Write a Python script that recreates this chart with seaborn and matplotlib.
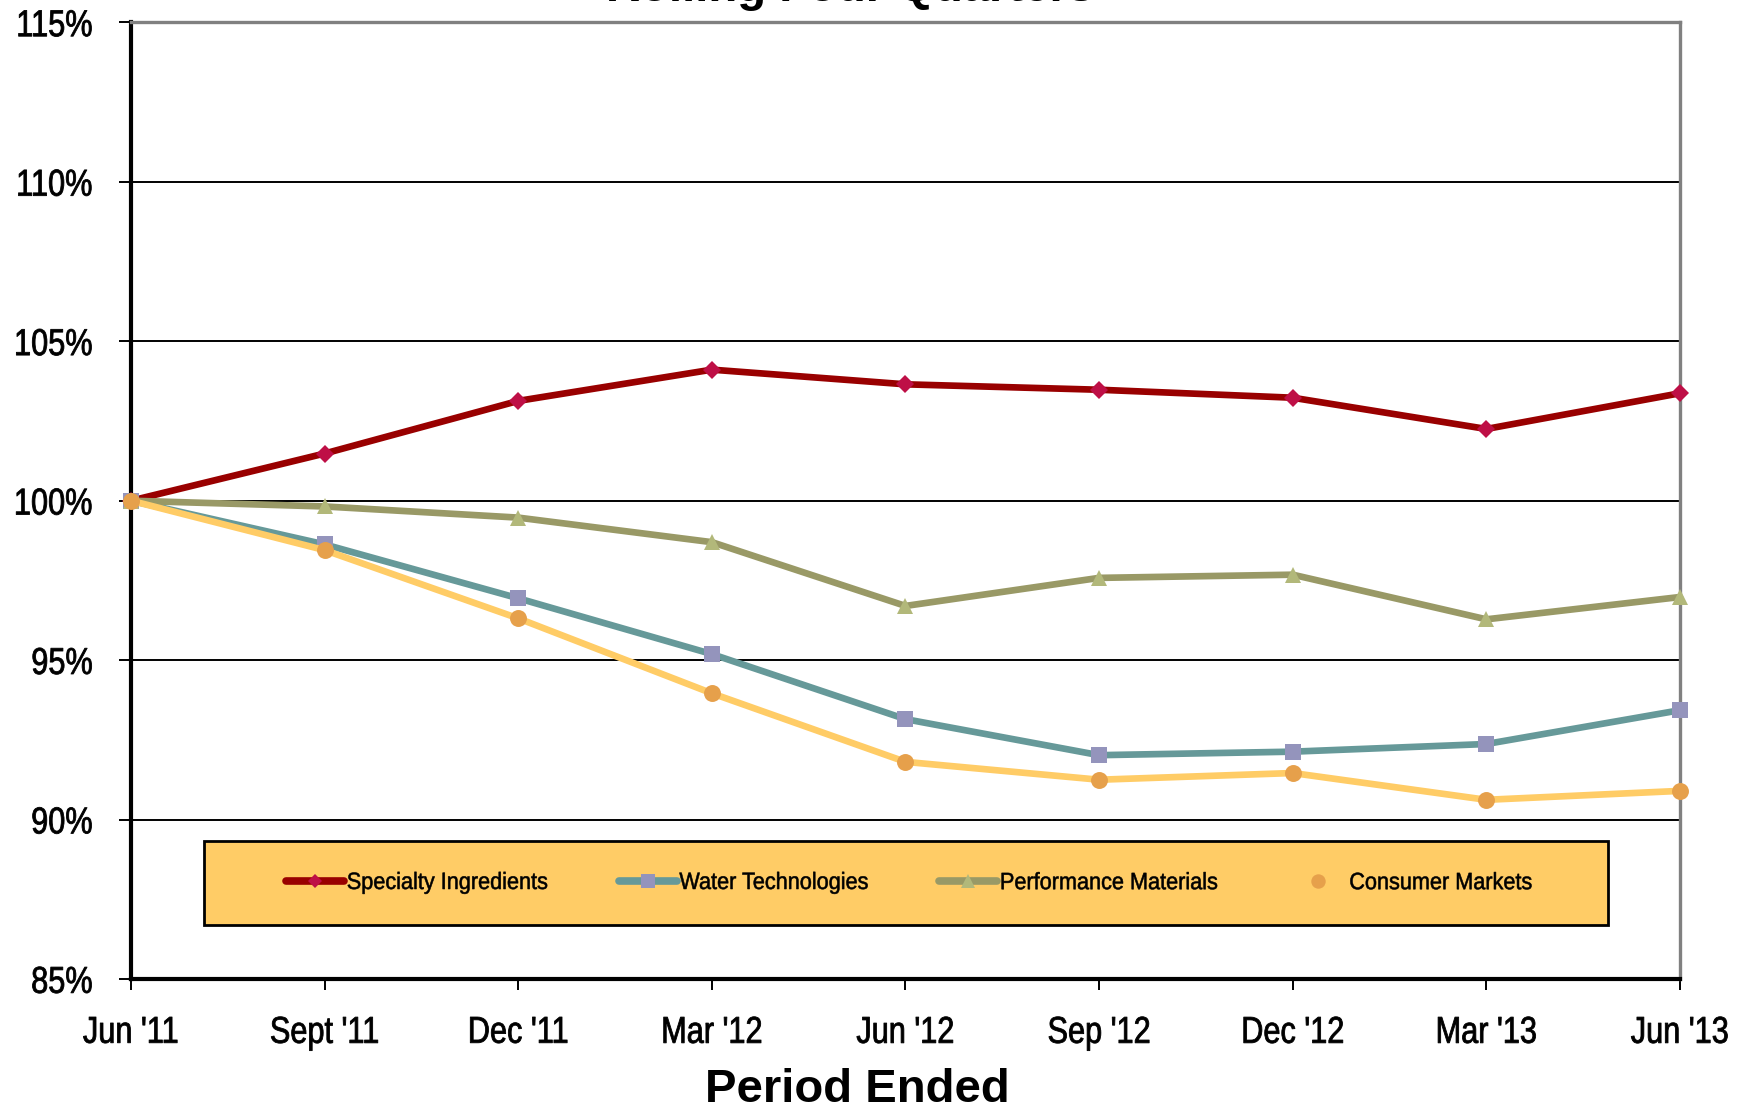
import matplotlib
matplotlib.use("Agg")
import matplotlib.pyplot as plt
from matplotlib.lines import Line2D
from matplotlib.patches import Rectangle
from matplotlib.patheffects import AbstractPathEffect
from matplotlib.transforms import Affine2D
import seaborn as sns
import pandas as pd

periods = ["Jun '11", "Sept '11", "Dec '11", "Mar '12", "Jun '12",
           "Sep '12", "Dec '12", "Mar '13", "Jun '13"]
specialty = [100.0, 101.48, 103.13, 104.11, 103.65, 103.48, 103.23, 102.25, 103.37]
water = [100.0, 98.63, 96.94, 95.19, 93.15, 92.02, 92.13, 92.37, 93.43]
performance = [100.0, 99.82, 99.47, 98.70, 96.70, 97.58, 97.68, 96.28, 96.98]
consumer = [100.0, 98.45, 96.31, 93.96, 91.81, 91.25, 91.46, 90.62, 90.90]
y_ticks = [85, 90, 95, 100, 105, 110, 115]

sns.set_style("white")
plt.rcParams["font.family"] = ["Liberation Sans", "DejaVu Sans"]


class Narrow(AbstractPathEffect):
    """Stretch a text path vertically (giving a narrow-type look) and thicken it."""

    def __init__(self, sy, anchor="center", stroke=0.0):
        super().__init__()
        self.sy = sy
        self.anchor = anchor
        self.stroke = stroke

    def draw_path(self, renderer, gc, tpath, affine, rgbFace=None):
        pts = affine.transform(tpath.vertices)
        y0 = 0.0
        if len(pts):
            ymin, ymax = pts[:, 1].min(), pts[:, 1].max()
            y0 = {"top": ymax, "bottom": ymin, "center": 0.5 * (ymin + ymax)}[self.anchor]
        stretch = Affine2D().translate(0, -y0).scale(1, self.sy).translate(0, y0)
        gc0 = renderer.new_gc()
        gc0.copy_properties(gc)
        if self.stroke > 0 and rgbFace is not None:
            gc0.set_linewidth(self.stroke)
            gc0.set_foreground(rgbFace)
            gc0.set_joinstyle("round")
        renderer.draw_path(gc0, tpath, affine + stretch, rgbFace)
        gc0.restore()


series = [
    ("Specialty Ingredients", specialty, "#990000", "D", "#BE0F46", 8.7),
    ("Water Technologies", water, "#669999", "s", "#9494BC", 12.2),
    ("Performance Materials", performance, "#999966", "^", "#B2B87A", 12.2),
    ("Consumer Markets", consumer, "#FFCC66", "o", "#E6A04B", 12.2),
]

fig = plt.figure(figsize=(17.56, 11.09), dpi=100)
ax = fig.add_axes([0.0746, 0.1172, 0.8821, 0.8626])

x = list(range(len(periods)))
for name, vals, lc, mk, mc, ms in series:
    df = pd.DataFrame({"period": x, "value": vals})
    sns.lineplot(data=df, x="period", y="value", ax=ax, color=lc, linewidth=4.8,
                 marker=mk, markersize=ms, markerfacecolor=mc,
                 markeredgecolor=mc, markeredgewidth=0, clip_on=False,
                 zorder=3, legend=False)

ax.set_xlim(0, 8)
ax.set_ylim(85, 115)
ax.set_xticks(x)
ax.set_xticklabels(periods)
ax.set_yticks(y_ticks)
ax.set_yticklabels([f"{v}%" for v in y_ticks])
ax.set_xlabel("")
ax.set_ylabel("")

for v in [90, 95, 100, 105, 110]:
    ax.axhline(v, color="black", linewidth=1.4, zorder=1)

tick_size = 22.1
ax.tick_params(axis="x", direction="out", length=8, width=1.4, color="black",
               labelsize=tick_size, labelcolor="black", pad=18, bottom=True)
ax.tick_params(axis="y", direction="out", length=8.6, width=1.4, color="black",
               labelsize=tick_size, labelcolor="black", pad=19, left=True)
for lab in ax.get_xticklabels():
    lab.set_path_effects([Narrow(1.22, "top", stroke=0.6)])
for lab in ax.get_yticklabels():
    lab.set_path_effects([Narrow(1.22, "center", stroke=0.6)])

ax.spines["left"].set_color("black")
ax.spines["left"].set_linewidth(3)
ax.spines["bottom"].set_color("black")
ax.spines["bottom"].set_linewidth(3)
ax.spines["top"].set_color("#808080")
ax.spines["top"].set_linewidth(2.4)
ax.spines["right"].set_color("#808080")
ax.spines["right"].set_linewidth(2.4)
for s in ax.spines.values():
    s.set_visible(True)

# legend panel
box = (0.0471, 0.0565, 0.9064, 0.0878)
ax.add_patch(Rectangle((box[0], box[1]), box[2], box[3], transform=ax.transAxes,
                       facecolor="#FFCC66", edgecolor="black", linewidth=2,
                       zorder=4, clip_on=False))

handles = []
for name, vals, lc, mk, mc, ms in series:
    ls = "none" if name == "Consumer Markets" else "-"
    handles.append(Line2D([], [], color=lc, linewidth=5.5, linestyle=ls, marker=mk,
                          markersize=ms * 0.85, markerfacecolor=mc,
                          markeredgecolor=mc, markeredgewidth=0,
                          solid_capstyle="round"))
leg = ax.legend(handles, [s[0] for s in series], ncol=4, loc="center",
                bbox_to_anchor=(box[0] + box[2] / 2 + 0.002, box[1] + box[3] / 2),
                fontsize=15.6, frameon=False, handlelength=2.67,
                handletextpad=0.12, columnspacing=3.3, borderaxespad=0)
leg.set_zorder(5)
for t in leg.get_texts():
    t.set_color("black")
    t.set_path_effects([Narrow(1.09, "center", stroke=0.4)])

fig.text(0.488, 0.0064, "Period Ended", ha="center", va="baseline",
         fontsize=34, fontweight="bold", color="black")
fig.text(0.484, 0.999, "Rolling Four Quarters", ha="center", va="baseline",
         fontsize=34, fontweight="bold", color="black")

fig.savefig("out.png", dpi=100)
